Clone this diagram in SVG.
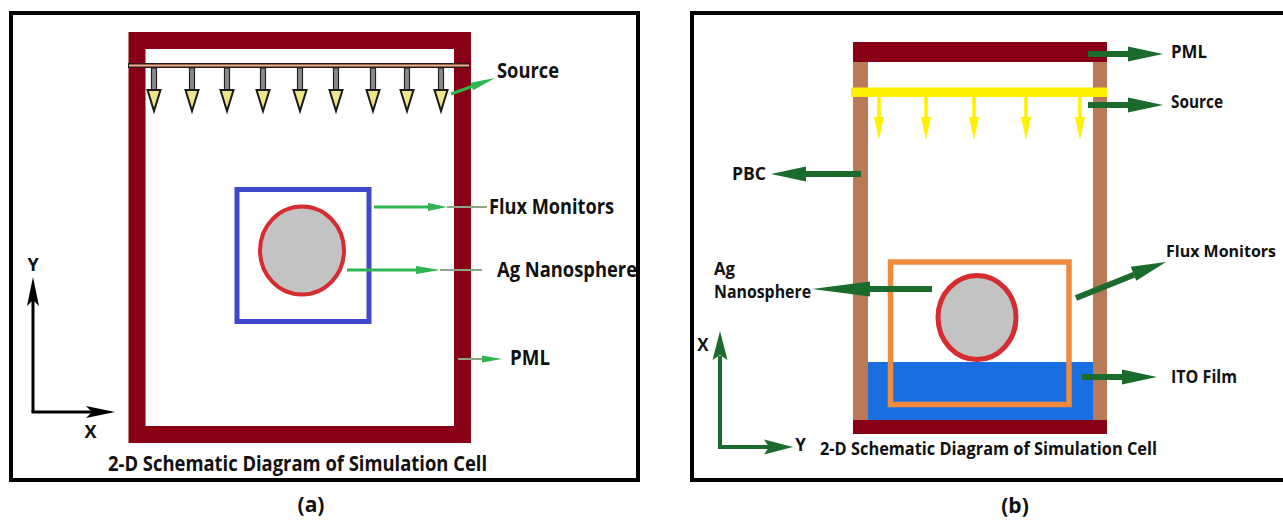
<svg xmlns="http://www.w3.org/2000/svg" width="1283" height="521" viewBox="0 0 1283 521">
<style>
.lbl{font-family:"Open Sans","Liberation Sans",sans-serif;font-weight:700;fill:#111}
.la{font-size:21px}
.lb{font-size:18px}
.frame{fill:none;stroke:#000;stroke-width:4}
.pml{fill:none;stroke:#880015}
.ga{stroke:#2EB550;stroke-width:3;fill:none}
.gah{fill:#2EB550}
.gtail{stroke:#8DA688;stroke-width:2;fill:none}
.dg{stroke:#1B6B2C;stroke-width:6;fill:none}
.dgh{fill:#1B6B2C}
.ax{stroke:#000;stroke-width:3;fill:none}
.axg{stroke:#1B6B2C;stroke-width:4;fill:none}
</style>
<defs>
<g id="srcArrow">
<rect x="-2.5" y="68" width="5" height="22" fill="#8a8a8a" stroke="#222" stroke-width="1.2"/>
<polygon points="-6.5,90 6.5,90 0,111" fill="#EDE58A" stroke="#1a1a1a" stroke-width="2" stroke-linejoin="miter"/>
</g>
<g id="yArrow">
<rect x="-1.8" y="97" width="3.6" height="21" fill="#FFF200"/>
<polygon points="-5,117 5,117 0,140" fill="#FFF200"/>
</g>
</defs>
<rect width="1283" height="521" fill="#fff"/>

<!-- Panel (a) -->
<g id="panel-a">
<rect class="frame" x="11" y="13" width="627" height="467"/>
<g id="a-pml"><rect class="pml" x="137" y="40.5" width="325.5" height="394" stroke-width="17"/></g>
<g id="a-source">
<line x1="128" y1="65.5" x2="470" y2="65.5" stroke="#2a1a1a" stroke-width="5"/>
<line x1="129" y1="65.5" x2="469" y2="65.5" stroke="#F2B08E" stroke-width="2"/>
<use href="#srcArrow" x="154"/><use href="#srcArrow" x="192"/><use href="#srcArrow" x="227"/>
<use href="#srcArrow" x="263"/><use href="#srcArrow" x="300"/><use href="#srcArrow" x="336"/>
<use href="#srcArrow" x="373"/><use href="#srcArrow" x="407"/><use href="#srcArrow" x="441"/>
</g>
<g id="a-monitor"><rect x="237" y="189.5" width="132" height="132" fill="none" stroke="#3F48CC" stroke-width="5"/></g>
<g id="a-sphere"><ellipse cx="302" cy="250.5" rx="42" ry="44" fill="#C3C3C3" stroke="#D62B2F" stroke-width="4"/></g>
<g id="a-axes">
<line class="ax" x1="33" y1="412" x2="33" y2="299"/>
<line class="ax" x1="31.5" y1="412" x2="93" y2="412"/>
<polygon points="33,277 27,306 33,300 39,306" fill="#000"/>
<polygon points="115,412 86,406 92,412 86,418" fill="#000"/>
<text class="lbl" x="33" y="271" font-size="18" text-anchor="middle">Y</text>
<text class="lbl" x="90.5" y="438" font-size="18" text-anchor="middle">X</text>
</g>
<g id="a-labels">
<text class="lbl la" x="497" y="78" textLength="62" lengthAdjust="spacingAndGlyphs">Source</text>
<text class="lbl la" x="489" y="214" textLength="125" lengthAdjust="spacingAndGlyphs">Flux Monitors</text>
<text class="lbl la" x="497" y="277" textLength="140" lengthAdjust="spacingAndGlyphs">Ag Nanosphere</text>
<text class="lbl la" x="510" y="365" textLength="40" lengthAdjust="spacingAndGlyphs">PML</text>
<text class="lbl la" x="108" y="471" textLength="379" lengthAdjust="spacingAndGlyphs">2-D Schematic Diagram of Simulation Cell</text>
</g>
<text class="lbl" x="311" y="512" font-size="21" text-anchor="middle">(a)</text>
</g>

<g id="connectors-a">
<line class="ga" x1="451" y1="94" x2="472" y2="86.5"/>
<polygon class="gah" points="470.3,82.7 495,78 473.1,90.3"/>
<line class="ga" x1="374" y1="207" x2="430" y2="207"/>
<polygon class="gah" points="428,203 447,207 428,211"/>
<line class="gtail" x1="447" y1="207" x2="487" y2="207"/>
<line class="ga" x1="347" y1="270" x2="418" y2="270"/>
<polygon class="gah" points="416,266 440,270 416,274"/>
<line class="gtail" x1="440" y1="270" x2="482" y2="270"/>
<line class="gtail" x1="458" y1="359" x2="484" y2="359"/>
<polygon class="gah" points="482,355.5 502,359 482,362.5"/>
</g>

<!-- Panel (b) -->
<g id="panel-b">
<path class="frame" d="M1290,13 H692 V480 H1290"/>
<g id="b-pbc">
<rect x="853" y="62" width="15" height="358" fill="#B97A57"/>
<rect x="1093" y="62" width="14" height="358" fill="#B97A57"/>
</g>
<g id="b-pml">
<rect x="853" y="42" width="254" height="20" fill="#880015"/>
<rect x="853" y="420" width="254" height="14" fill="#880015"/>
</g>
<g id="b-ito"><rect x="868" y="362" width="225" height="58" fill="#1A6FE0"/></g>
<g id="b-source">
<rect x="851" y="87.5" width="256" height="9.5" fill="#FFF200"/>
<use href="#yArrow" x="879"/><use href="#yArrow" x="926"/><use href="#yArrow" x="974"/>
<use href="#yArrow" x="1026"/><use href="#yArrow" x="1080"/>
</g>
<g id="b-monitor"><rect x="890.5" y="262" width="178.5" height="142.5" fill="none" stroke="#F08A3C" stroke-width="5.5"/></g>
<g id="b-sphere"><ellipse cx="977" cy="317.5" rx="39" ry="42" fill="#C3C3C3" stroke="#D62B2F" stroke-width="5"/></g>
<g id="b-axes">
<line class="axg" x1="720" y1="449" x2="720" y2="356"/>
<line class="axg" x1="718" y1="447" x2="770" y2="447"/>
<polygon class="dgh" points="720,331 712.5,360 720,355 727.5,360"/>
<polygon class="dgh" points="793,447 764,439.5 769,447 764,454.5"/>
<text class="lbl" x="703" y="351" font-size="17" text-anchor="middle">X</text>
<text class="lbl" x="800.5" y="451" font-size="17" text-anchor="middle">Y</text>
</g>
<g id="b-labels">
<text class="lbl lb" x="1171" y="58" textLength="36" lengthAdjust="spacingAndGlyphs">PML</text>
<text class="lbl lb" x="1171" y="108" textLength="52" lengthAdjust="spacingAndGlyphs">Source</text>
<text class="lbl lb" x="732" y="180" textLength="34" lengthAdjust="spacingAndGlyphs">PBC</text>
<text class="lbl" x="1166" y="257" font-size="16.5" textLength="110" lengthAdjust="spacingAndGlyphs">Flux Monitors</text>
<text class="lbl lb" x="714" y="275" textLength="21" lengthAdjust="spacingAndGlyphs">Ag</text>
<text class="lbl lb" x="714" y="298" textLength="97" lengthAdjust="spacingAndGlyphs">Nanosphere</text>
<text class="lbl lb" x="1171" y="383" textLength="66" lengthAdjust="spacingAndGlyphs">ITO Film</text>
<text class="lbl lb" x="820" y="455" textLength="337" lengthAdjust="spacingAndGlyphs">2-D Schematic Diagram of Simulation Cell</text>
</g>
<text class="lbl" x="1015" y="513" font-size="21" text-anchor="middle">(b)</text>
</g>

<g id="connectors-b">
<line class="dg" x1="1088" y1="54" x2="1129" y2="54"/>
<polygon class="dgh" points="1128,46.5 1163,54 1128,61.5"/>
<line class="dg" x1="1088" y1="105" x2="1129" y2="105"/>
<polygon class="dgh" points="1128,97.5 1163,105 1128,112.5"/>
<line class="dg" x1="861" y1="174" x2="805" y2="174"/>
<polygon class="dgh" points="806,166.5 771,174 806,181.5"/>
<line class="dg" x1="932" y1="289" x2="869" y2="289"/>
<polygon class="dgh" points="870,281.5 812,289 870,296.5"/>
<line class="dg" x1="1076" y1="298" x2="1134" y2="274.8"/>
<polygon class="dgh" points="1130.7,266.8 1166,262 1136.3,280.7"/>
<line class="dg" x1="1082" y1="377" x2="1123" y2="377"/>
<polygon class="dgh" points="1122,369.5 1157,377 1122,384.5"/>
</g>
</svg>
